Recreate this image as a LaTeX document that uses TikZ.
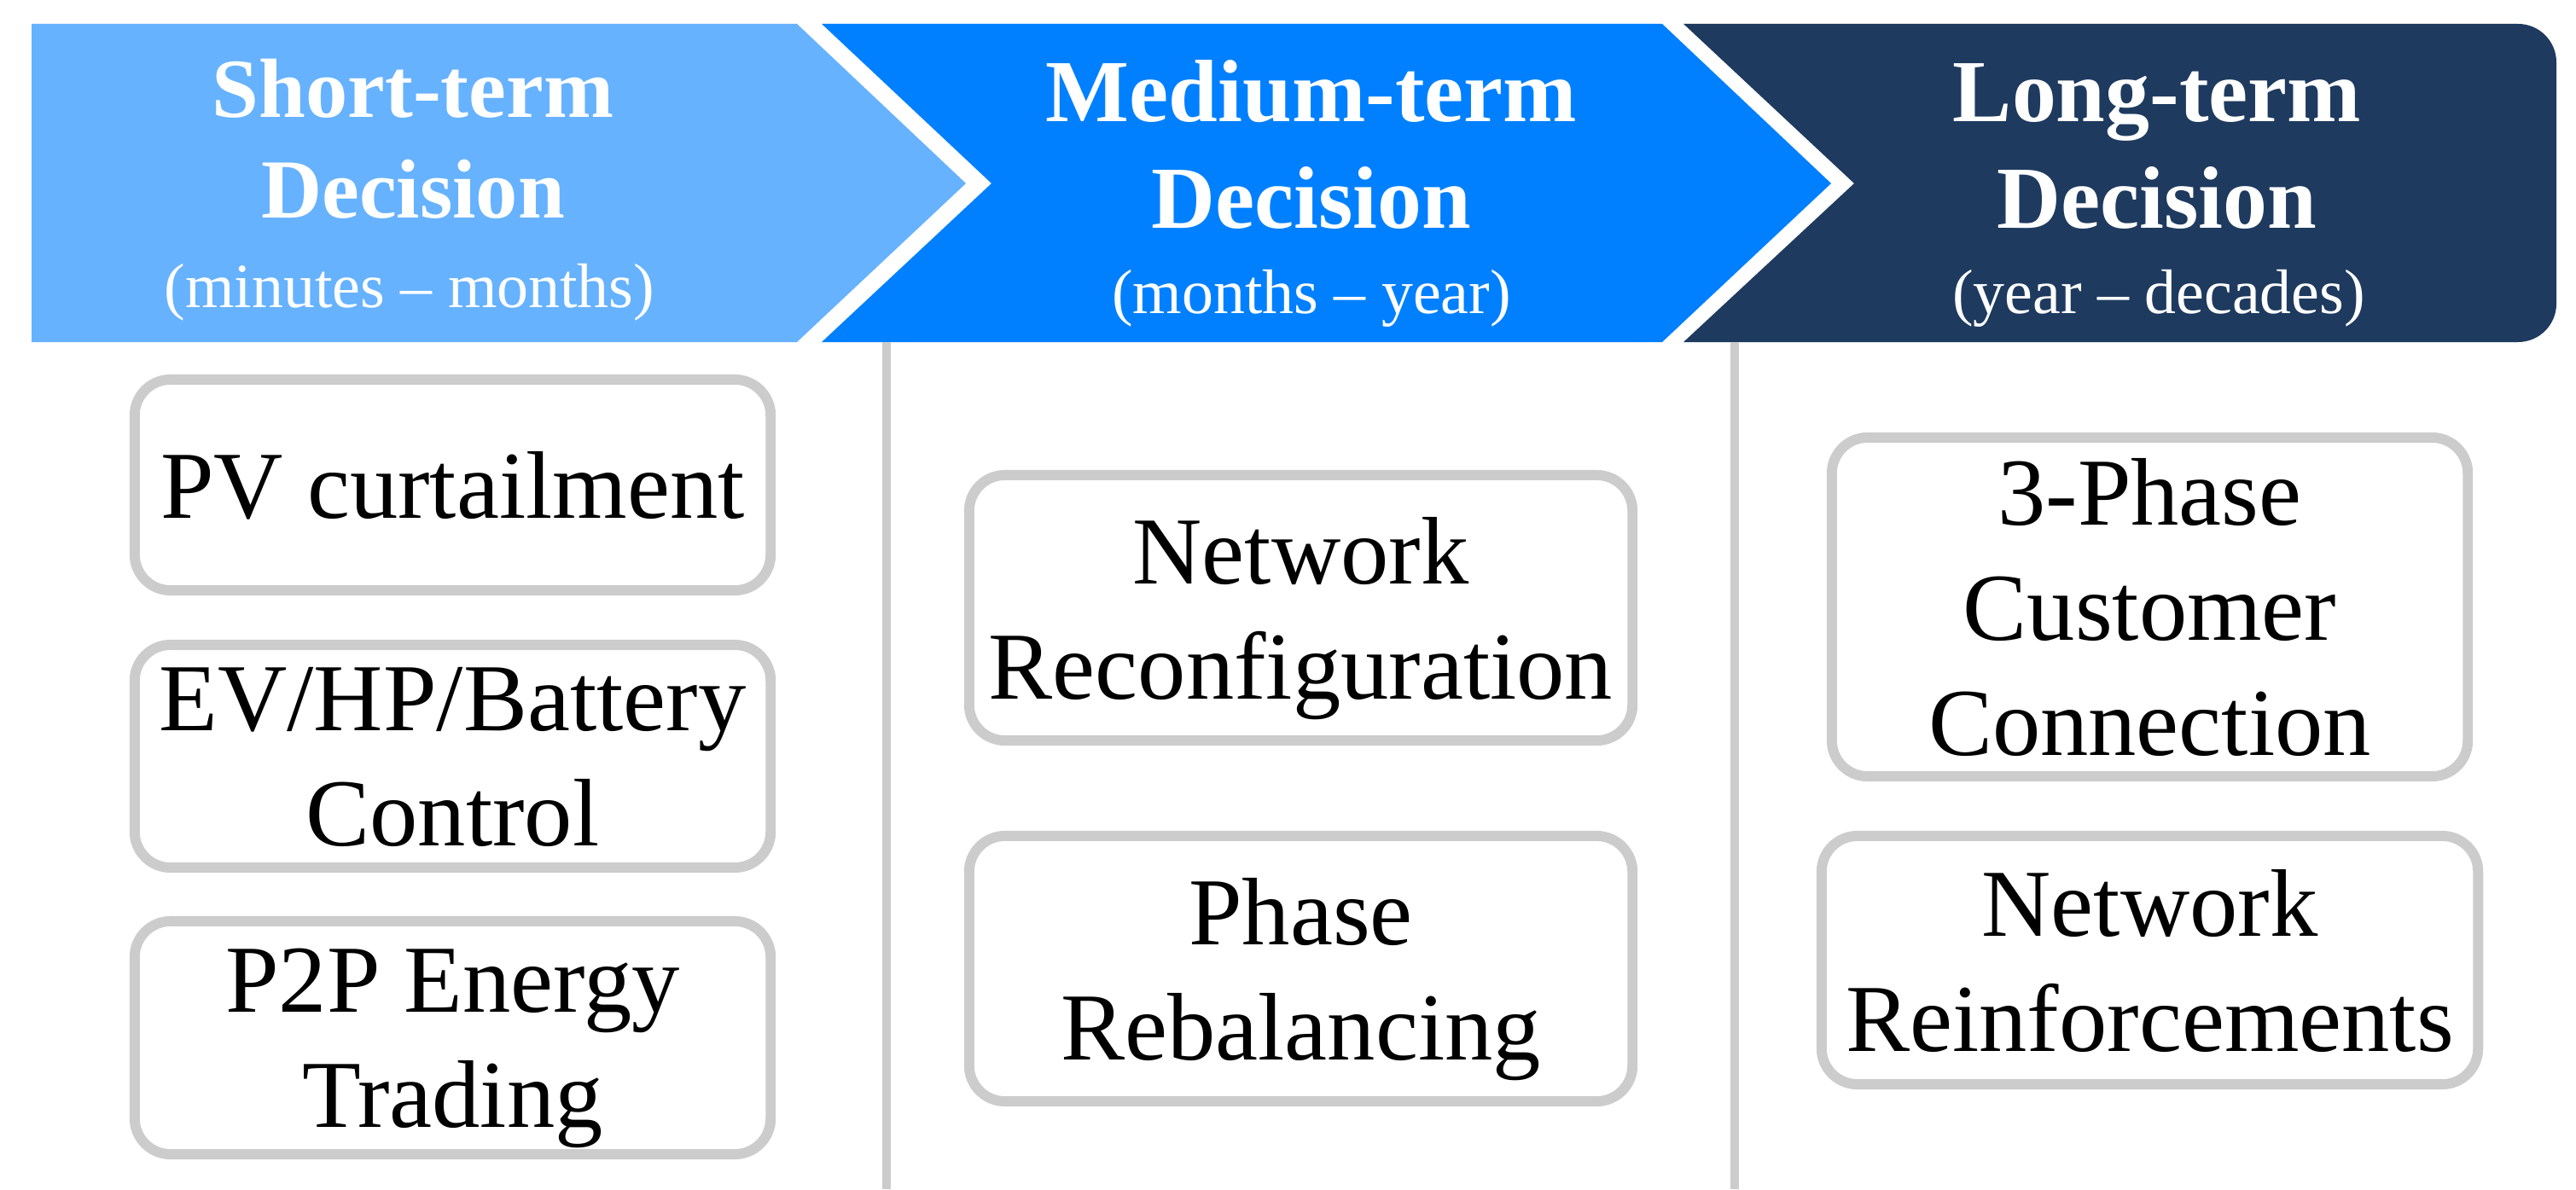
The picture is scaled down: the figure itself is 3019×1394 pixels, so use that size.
\documentclass[tikz,border=0pt]{standalone}
\usepackage{fontspec}
\setmainfont{Liberation Serif}
\definecolor{shortblue}{HTML}{66B2FF}
\definecolor{midblue}{HTML}{0080FF}
\definecolor{longblue}{HTML}{1E3A5F}
\definecolor{rimgray}{HTML}{CCCCCC}
\tikzset{
  headtitle/.style={text=white, font=\fontsize{29.5}{35}\selectfont\bfseries, anchor=base, inner sep=0pt},
  headspan/.style={text=white, font=\fontsize{21}{25}\selectfont, anchor=base, inner sep=0pt},
  task/.style={draw=rimgray, line width=3.4pt, rounded corners=0.42cm, fill=white,
    align=center, font=\fontsize{32}{38.4}\selectfont, inner sep=0pt, text depth=0pt},
  divider/.style={draw=rimgray, line width=3.1pt},
}
\begin{document}
\begin{tikzpicture}[x=0.01cm, y=-0.01cm]
  \useasboundingbox (0,0) rectangle (3019,1394);
  % the three time-scale chevrons along the top
  \fill[shortblue] (37,28) -- (934,28) -- (1132,215) -- (934,401) -- (37,401) -- cycle;
  \fill[midblue] (963,28) -- (1948,28) -- (2146,215) -- (1948,401) -- (963,401) -- (1162,215) -- cycle;
  \fill[longblue] (1973,28) -- (2951,28) arc[start angle=-90, end angle=0, radius=45]
    -- (2996,356) arc[start angle=0, end angle=90, radius=45] -- (1973,401) -- (2173,215) -- cycle;
  \node[headtitle, font=\fontsize{28}{33}\selectfont\bfseries] (shortA) at (484,137) {Short-term};
  \node[headtitle, font=\fontsize{28}{33}\selectfont\bfseries] (shortB) at (484,255) {Decision};
  \node[headspan]  (shortC) at (480,360) {(minutes – months)};
  \node[headtitle] (midA) at (1537,143) {Medium-term};
  \node[headtitle] (midB) at (1537,267) {Decision};
  \node[headspan]  (midC) at (1537,367) {(months – year)};
  \node[headtitle] (longA) at (2528,143) {Long-term};
  \node[headtitle] (longB) at (2528,267) {Decision};
  \node[headspan]  (longC) at (2530,367) {(year – decades)};
  % column separators
  \draw[divider] (1039,401) -- (1039,1394);
  \draw[divider] (2033,401) -- (2033,1394);
  % short-term tasks
  \node[task, minimum width=7.45cm, minimum height=2.47cm] (pv) at (530.5,568.5) {PV curtailment};
  \node[task, minimum width=7.45cm, minimum height=2.61cm] (evhp) at (530.5,886.5) {EV/HP/Battery\\Control};
  \node[task, minimum width=7.45cm, minimum height=2.73cm] (ptp) at (530.5,1216.5) {P2P Energy\\Trading};
  % medium-term tasks
  \node[task, minimum width=7.77cm, minimum height=3.11cm] (reconf) at (1524.5,712.5) {Network\\Reconfiguration};
  \node[task, minimum width=7.77cm, minimum height=3.11cm] (rebal) at (1524.5,1135.5) {Phase\\Rebalancing};
  % long-term tasks
  \node[task, minimum width=7.45cm, minimum height=3.97cm] (threeph) at (2519.5,711.5) {3-Phase\\Customer\\Connection};
  \node[task, minimum width=7.69cm, minimum height=2.91cm] (reinf) at (2519.5,1125.5) {Network\\Reinforcements};
\end{tikzpicture}
\end{document}
